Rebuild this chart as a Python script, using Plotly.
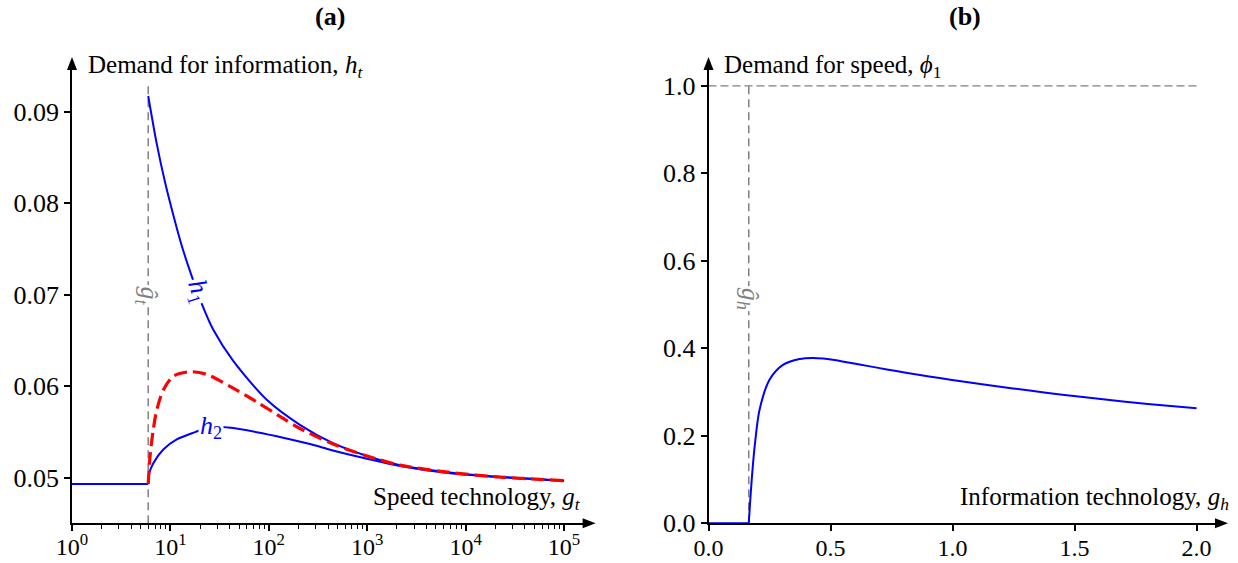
import numpy as np
import plotly.graph_objects as go

W, H = 1238, 563
FONT = "Liberation Serif"

# ---------------- panel (a): demand for information vs speed technology ----------------
gt_hat = 5.95          # threshold speed technology
h_flat = 0.04935       # common demand below the threshold
gt_start = 1.0

h1_g = [5.95, 7.26, 8.81, 10.7, 13.0, 16.5, 21.4, 27.2, 43.3, 96, 207, 449, 995, 2155, 6930, 22400, 100000]
h1_v = [0.0917, 0.0865, 0.0823, 0.0787, 0.0754, 0.0720, 0.0687, 0.0662, 0.0628, 0.0585, 0.0558, 0.0538,
        0.0524, 0.0514, 0.0506, 0.0501, 0.0497]

h2_g = [5.95, 6.1, 6.7, 8.47, 11.6, 17.8, 25.9, 38.8, 75.4, 140, 262, 449, 995, 2155, 6930, 22400, 100000]
h2_v = [0.04935, 0.0505, 0.0516, 0.0531, 0.0542, 0.0550, 0.0556, 0.0555, 0.0550, 0.0544, 0.0537, 0.0530,
        0.0521, 0.0513, 0.0505, 0.0501, 0.0497]

hm_g = [5.95, 6.2, 6.7, 7.26, 8.47, 10.7, 15.8, 23.4, 40.3, 75.4, 140, 207, 449, 995, 2155, 6930, 22400, 100000]
hm_v = [0.04935, 0.0523, 0.0553, 0.0574, 0.0596, 0.0611, 0.0616, 0.0613, 0.0600, 0.0583, 0.0565, 0.0554,
        0.0537, 0.0524, 0.0514, 0.0506, 0.0501, 0.0497]

gt_line_top = 0.0932
a_xrange_log = [0, 5.25]
a_yrange = [0.04505, 0.0952]
a_yticks = [0.05, 0.06, 0.07, 0.08, 0.09]
a_xticks = [1, 10, 100, 1000, 10000, 100000]
a_xticktext = ["10<sup>%d</sup>" % k for k in range(6)]
a_minor = [m * 10 ** k for k in range(5) for m in range(2, 10)]

# ---------------- panel (b): demand for speed vs information technology ----------------
gh_hat = 0.165
gh_start = 0.0
phi_g = [0.165, 0.175, 0.189, 0.209, 0.25, 0.305, 0.373, 0.427, 0.47, 0.509, 0.56, 0.619, 0.69, 0.769,
         0.86, 0.947, 1.042, 1.18, 1.316, 1.45, 1.589, 1.8, 2.0]
phi_v = [0.0, 0.084, 0.175, 0.259, 0.328, 0.362, 0.3755, 0.378, 0.3765, 0.3737, 0.3688, 0.3629, 0.3558,
         0.348, 0.3395, 0.332, 0.324, 0.3133, 0.3033, 0.294, 0.285, 0.2728, 0.263]
phi_cap = 1.0
b_xrange = [0, 2.1]
b_yrange = [0, 1.05]
b_xticks = [0.0, 0.5, 1.0, 1.5, 2.0]
b_yticks = [0.0, 0.2, 0.4, 0.6, 0.8, 1.0]

BLUE = "#0000ff"
RED = "#ff0000"
GREY = "#808080"

# plot-area placement in pixels
A_L, A_R = 72.0, 588.6
B_L, B_R = 708.5, 1221.0
TOP, BOT = 63.9, 523.3


def px(x):
    return x / W


def py(y):
    return 1 - y / H


fig = go.Figure()

# panel (a) traces
fig.add_trace(go.Scatter(x=[gt_hat, gt_hat], y=[a_yrange[0], gt_line_top], mode="lines",
                         line=dict(color=GREY, width=1.5, dash="8px,5px"), xaxis="x", yaxis="y"))
fig.add_trace(go.Scatter(x=[gt_start, gt_hat], y=[h_flat, h_flat], mode="lines",
                         line=dict(color=BLUE, width=2), xaxis="x", yaxis="y"))
fig.add_trace(go.Scatter(x=h1_g, y=h1_v, mode="lines", line=dict(color=BLUE, width=2, shape="spline",
                         smoothing=0.8), xaxis="x", yaxis="y"))
fig.add_trace(go.Scatter(x=h2_g, y=h2_v, mode="lines", line=dict(color=BLUE, width=2, shape="spline",
                         smoothing=0.8), xaxis="x", yaxis="y"))
fig.add_trace(go.Scatter(x=hm_g, y=hm_v, mode="lines", line=dict(color=RED, width=3.2, dash="13px,6px",
                         shape="spline", smoothing=0.8), xaxis="x", yaxis="y"))

# panel (b) traces
fig.add_trace(go.Scatter(x=[gh_start, b_xticks[-1]], y=[phi_cap, phi_cap], mode="lines",
                         line=dict(color=GREY, width=1.3, dash="8px,4px"), xaxis="x2", yaxis="y2"))
fig.add_trace(go.Scatter(x=[gh_hat, gh_hat], y=[0, phi_cap], mode="lines",
                         line=dict(color=GREY, width=1.5, dash="8px,5px"), xaxis="x2", yaxis="y2"))
fig.add_trace(go.Scatter(x=[gh_start, gh_hat], y=[0, 0], mode="lines",
                         line=dict(color=BLUE, width=2), xaxis="x2", yaxis="y2"))
fig.add_trace(go.Scatter(x=phi_g, y=phi_v, mode="lines", line=dict(color=BLUE, width=2, shape="spline",
                         smoothing=0.8), xaxis="x2", yaxis="y2"))

axis_common = dict(showline=True, linecolor="black", linewidth=1.6, ticks="outside", ticklen=6,
                   tickwidth=1.5, tickcolor="black", showgrid=False, zeroline=False, mirror=False,
                   automargin=False)
yfont = dict(family=FONT, size=26, color="black")
xfont = dict(family=FONT, size=24, color="black")

fig.update_layout(
    width=W, height=H, autosize=False,
    margin=dict(l=0, r=0, t=0, b=0, pad=0),
    paper_bgcolor="white", plot_bgcolor="white",
    showlegend=False,
    xaxis=dict(type="log", domain=[px(A_L), px(A_R)], range=a_xrange_log, anchor="y",
               tickmode="array", tickvals=a_xticks, ticktext=a_xticktext, tickfont=xfont,
               ticklabelstandoff=-5,
               minor=dict(ticks="outside", ticklen=3.5, tickwidth=1, tickcolor="black",
                          tickmode="array", tickvals=a_minor, showgrid=False),
               **axis_common),
    yaxis=dict(domain=[py(BOT), py(TOP)], range=a_yrange, anchor="x", tickfont=yfont,
               tickmode="array", tickvals=a_yticks, tickformat=".2f", **axis_common),
    xaxis2=dict(domain=[px(B_L), px(B_R)], range=b_xrange, anchor="y2", tickfont=xfont,
                ticklabelstandoff=-4,
                tickmode="array", tickvals=b_xticks, tickformat=".1f", **axis_common),
    yaxis2=dict(domain=[py(BOT), py(TOP)], range=b_yrange, anchor="x2", tickfont=yfont,
                tickmode="array", tickvals=b_yticks, tickformat=".1f", **axis_common),
)

# axis arrowheads
arrow_right = "M-6,5 L7,0 L-6,-5 Z"
arrow_up = "M-5,-6 L0,7 L5,-6 Z"
for xa, ya, path in [(A_R, BOT, arrow_right), (A_L, TOP, arrow_up),
                     (B_R, BOT, arrow_right), (B_L, TOP, arrow_up)]:
    fig.add_shape(type="path", xref="paper", yref="paper", xsizemode="pixel", ysizemode="pixel",
                  xanchor=px(xa), yanchor=py(ya), path=path, fillcolor="black",
                  line=dict(color="black", width=0))

def text(x, y, s, size=25, xanchor="left", color="black", **kw):
    fig.add_annotation(x=px(x), y=py(y), xref="paper", yref="paper", text=s, showarrow=False,
                       xanchor=xanchor, yanchor="middle",
                       font=dict(family=FONT, size=size, color=color), **kw)

# panel titles
text((A_L + A_R) / 2, 17, "<b>(a)</b>", size=26, xanchor="center")
text((B_L + B_R) / 2, 17, "<b>(b)</b>", size=26, xanchor="center")

# axis captions
text(86, 66, "Demand for information, <i>h</i><sub><i>t</i></sub>")
text(722, 66, "Demand for speed, <i>ϕ</i><sub>1</sub>")
text(583, 498, "Speed technology, <i>g</i><sub><i>t</i></sub>", xanchor="right")
text(1231, 498, "Information technology, <i>g</i><sub><i>h</i></sub>", xanchor="right")

# inline curve labels
def curve_label(x, y, s, xref, yref, color, angle):
    fig.add_annotation(x=x, y=y, xref=xref, yref=yref, text=s, showarrow=False,
                       textangle=angle, bgcolor="white", borderpad=1,
                       font=dict(family=FONT, size=26, color=color))

curve_label(np.log10(19.0), 0.0704, "<i>h</i><sub>1</sub>", "x", "y", BLUE, 72)
curve_label(np.log10(26.0), 0.0556, "<i>h</i><sub>2</sub>", "x", "y", BLUE, 0)
curve_label(np.log10(gt_hat), 0.0699, "<i>ĝ</i><sub><i>t</i></sub>", "x", "y", GREY, 90)
curve_label(gh_hat, 0.514, "<i>ĝ</i><sub><i>h</i></sub>", "x2", "y2", GREY, 90)

fig.write_html("out.html")
